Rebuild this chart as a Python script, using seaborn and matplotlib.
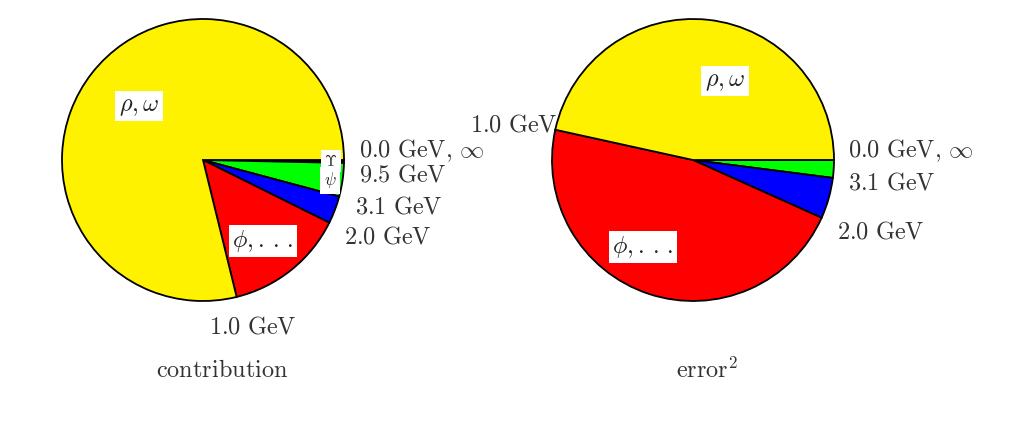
import matplotlib
matplotlib.use("Agg")
import matplotlib.pyplot as plt
import seaborn as sns

sns.set_theme(style="white")
plt.rcParams['font.family'] = ['DejaVu Sans']
plt.rcParams['mathtext.fontset'] = 'cm'

W, H = 1021, 421

# slice sizes (degrees of the full circle), ordered clockwise from 0.0 GeV / infinity
left_names = ["Upsilon", "psi", "continuum", "phi", "rho_omega"]
left_values = [1.2, 13.8, 11.4, 49.8, 283.8]
left_colors = ["#000000", "#00ff00", "#0000ff", "#ff0000", "#fff200"]

right_names = ["psi", "continuum", "phi", "rho_omega"]
right_values = [7.3, 16.9, 168.2, 167.6]
right_colors = ["#00ff00", "#0000ff", "#ff0000", "#fff200"]

left_title = r"$\mathrm{contribution}$"
right_title = r"$\mathrm{error}^2$"

fig = plt.figure(figsize=(W / 100, H / 100), dpi=100)
fig.patch.set_facecolor("white")

R = 141


def make_ax(cx, cy):
    ax = fig.add_axes([(cx - R) / W, (H - cy - R) / H, 2 * R / W, 2 * R / H])
    return ax


def finish(ax):
    ax.set_xlim(-1, 1)
    ax.set_ylim(-1, 1)
    ax.set_aspect("equal")
    ax.axis("off")


ax1 = make_ax(203, 160)
ax1.pie(left_values, colors=left_colors, startangle=0, counterclock=False,
        radius=1, wedgeprops=dict(edgecolor="black", linewidth=1.3))
finish(ax1)
ax2 = make_ax(693, 160)
ax2.pie(right_values, colors=right_colors, startangle=0, counterclock=False,
        radius=1, wedgeprops=dict(edgecolor="black", linewidth=1.3))
finish(ax2)

txt_color = "#333333"


def ftext(x, y, s, size=17.5, ha="left", box=False):
    kw = {}
    if box:
        kw["bbox"] = dict(facecolor="white", edgecolor="none", pad=2.5)
    fig.text(x / W, 1 - y / H, s, ha=ha, va="center", fontsize=size,
             color=txt_color if not box else "#222222", **kw)


lab0 = r"$\mathrm{0.0\ GeV,}\ \!\infty$"
phi_lab = r"$\phi,.\,.\,.$"

# left pie labels
ftext(139, 106, r"$\rho,\omega$", ha="center", box=True)
ftext(263, 241, phi_lab, ha="center", box=True)
ftext(331, 161, r"$\Upsilon$", size=11, ha="center", box=True)
ftext(330, 180, r"$\psi$", size=12, ha="center", box=True)
ftext(359, 151, lab0)
ftext(359, 174, r"$\mathrm{9.5\ GeV}$")
ftext(355, 207, r"$\mathrm{3.1\ GeV}$")
ftext(344, 237, r"$\mathrm{2.0\ GeV}$")
ftext(209, 326, r"$\mathrm{1.0\ GeV}$")
ftext(222, 370, left_title, ha="center")

# right pie labels
ftext(725, 81, r"$\rho,\omega$", ha="center", box=True)
ftext(643, 247, phi_lab, ha="center", box=True)
ftext(848, 151, lab0)
ftext(848, 183, r"$\mathrm{3.1\ GeV}$")
ftext(837, 231, r"$\mathrm{2.0\ GeV}$")
ftext(470, 125, r"$\mathrm{1.0\ GeV}$")
ftext(707, 370, right_title, ha="center")

fig.savefig("out.png", dpi=100, facecolor="white")
